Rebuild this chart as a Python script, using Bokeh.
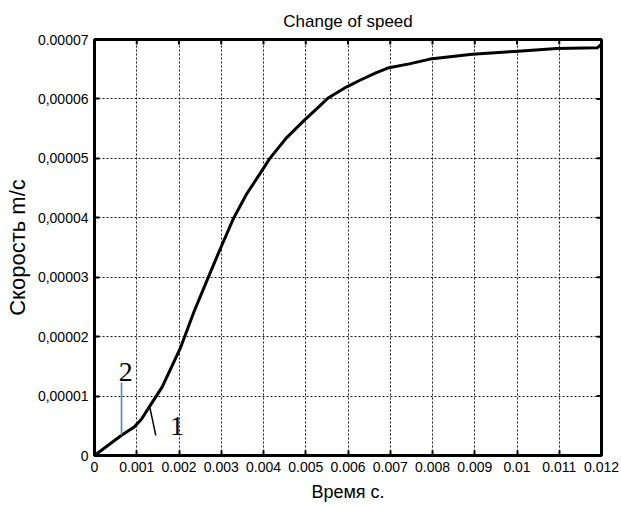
import math
from bokeh.plotting import figure
from bokeh.models import Range1d, FixedTicker, ColumnDataSource
from bokeh.core.properties import value
from bokeh.embed import file_html
from bokeh.resources import INLINE

# ---- data ----
time_s = [0, 0.0003, 0.00064, 0.00094, 0.00112, 0.00129, 0.0016, 0.00204, 0.00235, 0.0027,
          0.00296, 0.00329, 0.0036, 0.00396, 0.00415, 0.00455, 0.00495, 0.00525,
          0.00552, 0.00596, 0.00627, 0.00666, 0.00694, 0.00745, 0.00794, 0.00894,
          0.00994, 0.01094, 0.0119, 0.012]
speed = [0, 1.6e-6, 3.4e-6, 4.8e-6, 6.2e-6, 8.1e-6, 1.15e-5, 1.82e-5, 2.41e-5, 3.01e-5,
         3.45e-5, 3.99e-5, 4.40e-5, 4.79e-5, 5.0e-5, 5.35e-5, 5.63e-5, 5.83e-5,
         6.01e-5, 6.20e-5, 6.31e-5, 6.44e-5, 6.52e-5, 6.59e-5, 6.67e-5, 6.75e-5,
         6.80e-5, 6.85e-5, 6.86e-5, 6.92e-5]

x_ticks = [0, 0.001, 0.002, 0.003, 0.004, 0.005, 0.006, 0.007, 0.008, 0.009, 0.01, 0.011, 0.012]
x_tick_labels = ["0", "0.001", "0.002", "0.003", "0.004", "0.005", "0.006", "0.007",
                 "0.008", "0.009", "0.01", "0.011", "0.012"]
y_ticks = [0, 1e-05, 2e-05, 3e-05, 4e-05, 5e-05, 6e-05, 7e-05]
y_tick_labels = ["0", "0,00001", "0,00002", "0,00003", "0,00004", "0,00005", "0,00006", "0.00007"]

# annotation marker "2" (blue line) and "1" (leader line)
marker2_x = [0.00064, 0.00064]
marker2_y = [3.4e-6, 1.23e-5]
marker1_x = [0.00131, 0.00145]
marker1_y = [8.1e-6, 3.4e-6]
label_x = [0.00074, 0.00195]
label_y = [1.41e-5, 4.9e-6]
label_text = ["2", "1"]

title_text = "Change of speed"
x_label = "Время с."
y_label = "Скорость m/c"

FONT = "Liberation Sans"

p = figure(width=621, height=508, output_backend="svg", toolbar_location=None,
           x_range=Range1d(x_ticks[0], x_ticks[-1]), y_range=Range1d(y_ticks[0], y_ticks[-1]),
           min_border_left=94, min_border_right=20, min_border_top=39, min_border_bottom=53,
           title=title_text)
p.title.align = "center"
p.title.text_font = FONT
p.title.text_font_style = "normal"
p.title.text_font_size = "17px"
p.title.text_color = "black"
p.title.standoff = 18

p.background_fill_color = "white"
p.border_fill_color = "white"
p.outline_line_color = "black"
p.outline_line_width = 3

# bottom / left axes
for ax, ticks, labels in ((p.xaxis[0], x_ticks, x_tick_labels), (p.yaxis[0], y_ticks, y_tick_labels)):
    ax.ticker = FixedTicker(ticks=ticks)
    ax.major_label_overrides = {t: l for t, l in zip(ticks, labels)}
    ax.major_tick_in = 5
    ax.major_tick_out = 0
    ax.major_tick_line_width = 2
    ax.major_tick_line_color = "black"
    ax.minor_tick_line_color = None
    ax.axis_line_color = None
    ax.major_label_text_font = FONT
    ax.major_label_text_font_size = "14px"
    ax.major_label_text_color = "black"
    ax.axis_label_text_font = FONT
    ax.axis_label_text_font_style = "normal"
    ax.axis_label_text_color = "black"

p.xaxis[0].axis_label = x_label
p.xaxis[0].axis_label_text_font_size = "18px"
p.xaxis[0].major_label_standoff = 6
p.xaxis[0].axis_label_standoff = 7
p.yaxis[0].axis_label = y_label
p.yaxis[0].axis_label_text_font_size = "22px"
p.yaxis[0].major_label_standoff = 6
p.yaxis[0].axis_label_standoff = 5

# inward ticks on the top and right edges of the frame
p.ray(x=x_ticks, y=[y_ticks[-1]] * len(x_ticks), length=5, length_units="screen",
      angle=-math.pi / 2, line_color="black", line_width=2)
p.ray(x=[x_ticks[-1]] * len(y_ticks), y=y_ticks, length=5, length_units="screen",
      angle=math.pi, line_color="black", line_width=2)

# dotted grid
p.xgrid.ticker = FixedTicker(ticks=x_ticks)
p.ygrid.ticker = FixedTicker(ticks=y_ticks)
for g in (p.xgrid[0], p.ygrid[0]):
    g.grid_line_color = "black"
    g.grid_line_dash = "2 2"
    g.grid_line_width = 1
    g.grid_line_alpha = 0.9

# curve
p.line(time_s, speed, line_color="black", line_width=3, line_join="round")

# annotations
p.line(marker2_x, marker2_y, line_color="#4f86c6", line_width=1.6)
p.line(marker1_x, marker1_y, line_color="black", line_width=1.5)
src = ColumnDataSource(dict(x=label_x, y=label_y, t=label_text))
p.text(x="x", y="y", text="t", source=src, text_font=value("Liberation Serif"),
       text_font_size="28px", text_align="center", text_baseline="middle", text_color="black")

open("out.html", "w").write(file_html(p, INLINE))
